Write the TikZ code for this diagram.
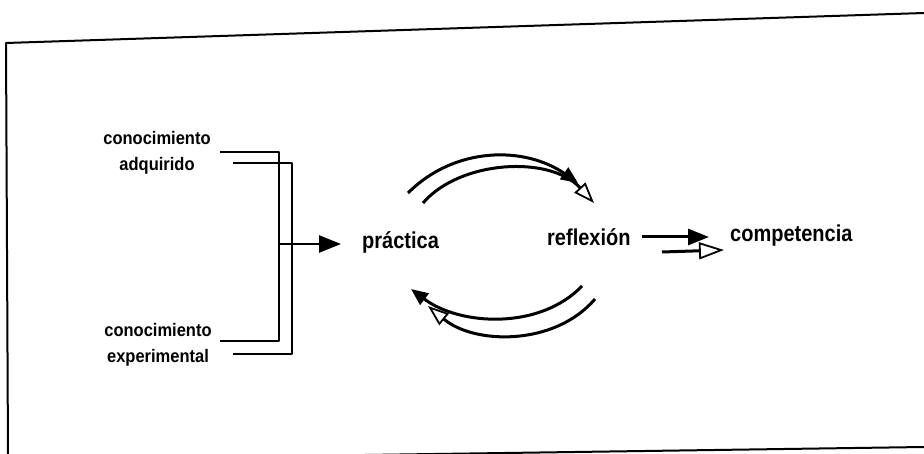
\documentclass[tikz,border=0pt]{standalone}
\usepackage{fontspec}
\setmainfont{Liberation Sans}
\usepackage{graphicx}
\usetikzlibrary{arrows.meta}
\newcommand\lftxt[1]{\scalebox{1}[1.1]{#1}}
\newcommand\midtxt[1]{\scalebox{1}[1.15]{#1}}
\begin{document}
\begin{tikzpicture}[x=1pt,y=-1pt, line join=round,
  frame/.style={line width=2pt},
  ln/.style={line width=2.6pt},
  arcline/.style={line width=3pt},
  fhead/.style={-{Triangle[length=17pt,width=14pt]}},
  ohead/.style={-{Triangle[open,fill=white,line width=1.8pt,length=21pt,width=15pt]}},
  lab/.style={font=\bfseries\fontsize{16.5}{26}\selectfont, inner sep=0pt, anchor=base},
  midlab/.style={font=\bfseries\fontsize{20}{24}\selectfont, inner sep=0pt, anchor=base west}]
\useasboundingbox (0,0) rectangle (924,454);
\fill[white] (0,0) rectangle (924,454);
% frame (slightly skewed scan)
\draw[frame] (924,13) -- (6,43) -- (8,456);
\draw[frame] (365,455) -- (924,447);

% labels
\node[lab] (ca) at (157,145) {\begin{tabular}[t]{@{}c@{}}\lftxt{conocimiento}\\\lftxt{adquirido}\end{tabular}};
\node[lab] (ce) at (158,337) {\begin{tabular}[t]{@{}c@{}}\lftxt{conocimiento}\\\lftxt{experimental}\end{tabular}};
\node[midlab] (p) at (362,249) {\midtxt{práctica}};
\node[midlab] (r) at (547,246) {\midtxt{reflexión}};
\node[midlab] (c) at (730,242) {\midtxt{competencia}};

% brackets
\coordinate (a1) at (220,152); \coordinate (a2) at (279,152);
\coordinate (a3) at (279,341); \coordinate (a4) at (220,341);
\coordinate (b1) at (233,163); \coordinate (b2) at (292,163);
\coordinate (b3) at (292,354); \coordinate (b4) at (233,354);
\draw[ln] (a1) -- (a2) -- (a3) -- (a4);
\draw[ln] (b1) -- (b2) -- (b3) -- (b4);
\coordinate (j) at (279,244); \coordinate (pin) at (341,244);
\draw[ln, -{Triangle[length=22pt,width=17pt]}] (j) -- (pin);

% cycle arcs
\coordinate (t1s) at (408,193); \coordinate (t1e) at (578,183);
\coordinate (t2s) at (423,203); \coordinate (t2e) at (594,203);
\coordinate (u1s) at (582,286); \coordinate (u1e) at (411,289);
\coordinate (u2s) at (595,299); \coordinate (u2e) at (428,306);
\draw[arcline, ohead] (t2s) .. controls (460,160) and (550,155) .. (t2e);
\draw[arcline, fhead] (t1s) .. controls (455,146) and (525,146) .. (t1e);
\draw[arcline, ohead] (u2s) .. controls (555,346) and (475,345) .. (u2e);
\draw[arcline, fhead] (u1s) .. controls (540,330) and (460,326) .. (u1e);

% to competencia
\coordinate (r1) at (642,237); \coordinate (c1) at (709,237);
\coordinate (r2) at (662,252); \coordinate (c2) at (724,250);
\draw[arcline, -{Triangle[length=21pt,width=16pt]}] (r1) -- (c1);
\draw[arcline, -{Triangle[open,fill=white,line width=1.8pt,length=25pt,width=17pt]}] (r2) -- (c2);
\end{tikzpicture}
\end{document}
